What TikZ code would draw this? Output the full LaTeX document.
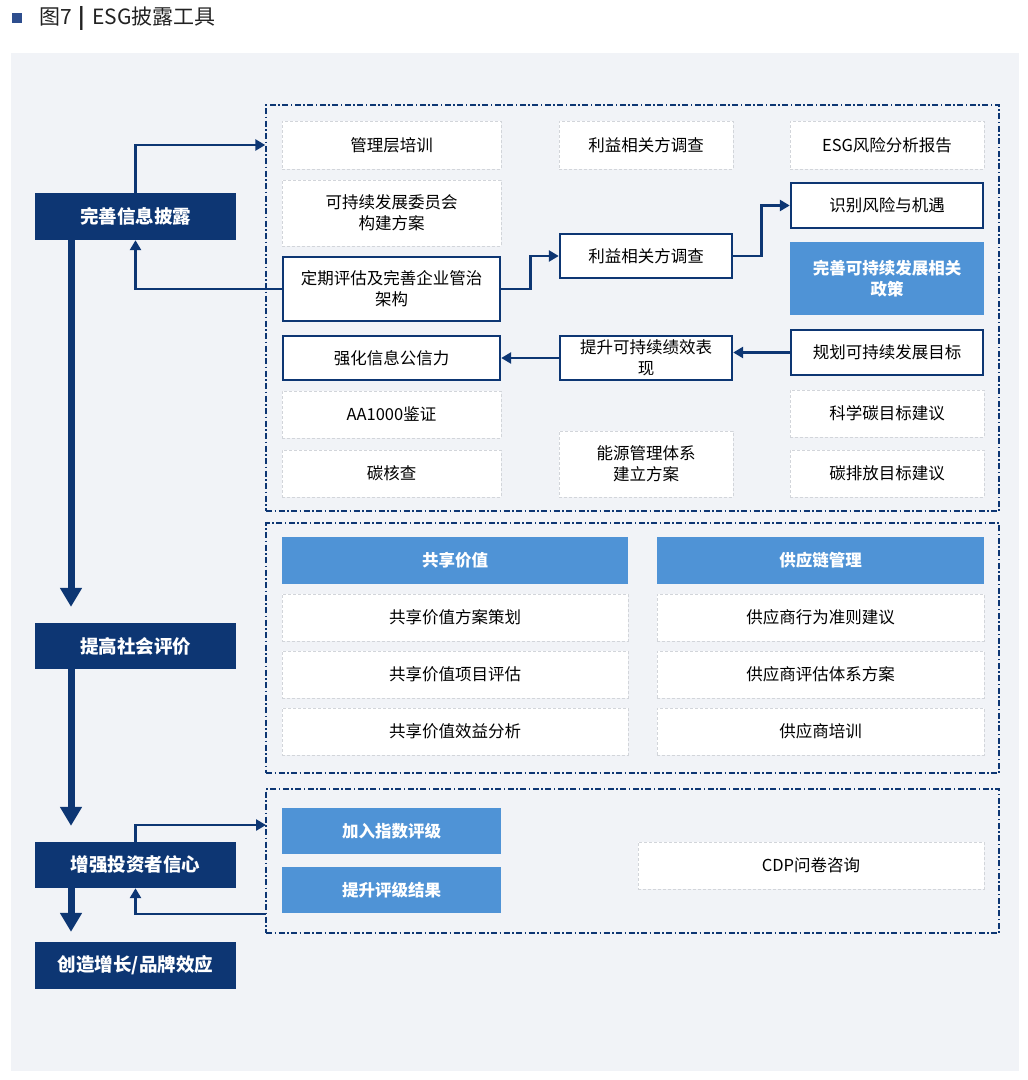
\documentclass[tikz,border=0pt]{standalone}
\usepackage{fontspec}
\setmainfont{Noto Sans CJK SC}
\usetikzlibrary{arrows.meta}
\definecolor{navy}{HTML}{0D3673}
\definecolor{bluef}{HTML}{4F93D6}
\definecolor{bgc}{HTML}{F1F3F7}
\definecolor{lgray}{HTML}{D2D5DA}
\definecolor{titlec}{HTML}{222222}
\definecolor{sq}{HTML}{2E4E8E}
\tikzset{
  lbox/.style={fill=navy, text=white, font=\bfseries\fontsize{18.5}{22}\selectfont, minimum width=201pt, minimum height=47pt, inner sep=0pt},
  wbox/.style={fill=white, draw=lgray, line width=0.7pt, dash pattern=on 3pt off 2pt, font=\fontsize{16.5}{21}\selectfont, align=center, inner sep=0pt},
  nbox/.style={fill=white, draw=navy, line width=2.4pt, font=\fontsize{16.5}{21}\selectfont, align=center, inner sep=0pt},
  bbox/.style={fill=bluef, text=white, font=\bfseries\fontsize{16.5}{21}\selectfont, align=center, inner sep=0pt},
  grp/.style={draw=navy, line width=1.4pt, dash pattern=on 6pt off 2.5pt on 1.5pt off 2.5pt, inner sep=0pt},
  bigarrow/.style={draw=navy, line width=7pt, -{Triangle[length=19pt,width=21pt]}},
  thinarrow/.style={draw=navy, line width=2.6pt, -{Triangle[length=10pt,width=11pt]}},
}
\begin{document}
\begin{tikzpicture}[x=1pt,y=-1pt]
\useasboundingbox (0,0) rectangle (1028,1080);
\fill[bgc] (11,53) rectangle (1019,1071);
% title
\fill[sq] (12,13) rectangle (22,23);
\node[anchor=west, inner sep=0pt, text=titlec, font=\fontsize{21}{22}\selectfont] (title) at (39,18) {图7\kern7pt\textbf{|}\kern7pt ESG披露工具};

% group boxes
\node[grp, minimum width=733pt, minimum height=406pt] (g1) at (632.5,308) {};
\node[grp, minimum width=733pt, minimum height=250pt] (g2) at (632.5,648) {};
\node[grp, minimum width=733pt, minimum height=144pt] (g3) at (632.5,861) {};

% left boxes
\node[lbox] (L1) at (135.5,216.5) {完善信息披露};
\node[lbox, minimum height=46pt] (L2) at (135.5,646) {提高社会评价};
\node[lbox, minimum height=46pt] (L3) at (135.5,865) {增强投资者信心};
\node[lbox] (L4) at (135.5,965.5) {创造增长/品牌效应};

% box 1, column 1
\node[wbox, minimum width=219pt, minimum height=48pt] (a1) at (391.5,145) {管理层培训};
\node[wbox, minimum width=219pt, minimum height=66pt] (a2) at (391.5,213) {可持续发展委员会\\构建方案};
\node[nbox, minimum width=217pt, minimum height=64pt] (a3) at (391.5,289) {定期评估及完善企业管治\\架构};
\node[nbox, minimum width=217pt, minimum height=44pt] (a4) at (391.5,358) {强化信息公信力};
\node[wbox, minimum width=219pt, minimum height=47pt] (a5) at (391.5,414.5) {AA1000鉴证};
\node[wbox, minimum width=219pt, minimum height=47pt] (a6) at (391.5,473.5) {碳核查};
% column 2
\node[wbox, minimum width=174pt, minimum height=48pt] (b1) at (646,145) {利益相关方调查};
\node[nbox, minimum width=172pt, minimum height=44pt] (b2) at (646,256) {利益相关方调查};
\node[nbox, minimum width=172pt, minimum height=44pt] (b3) at (646,358) {提升可持续绩效表\\现};
\node[wbox, minimum width=174pt, minimum height=66pt] (b4) at (646,464) {能源管理体系\\建立方案};
% column 3
\node[wbox, minimum width=194pt, minimum height=48pt] (c1) at (887,145) {ESG风险分析报告};
\node[nbox, minimum width=192pt, minimum height=45pt] (c2) at (887,205.5) {识别风险与机遇};
\node[bbox, minimum width=194pt, minimum height=73pt] (c3) at (887,278.5) {完善可持续发展相关\\政策};
\node[nbox, minimum width=192pt, minimum height=45pt] (c4) at (887,352.5) {规划可持续发展目标};
\node[wbox, minimum width=194pt, minimum height=47pt] (c5) at (887,413.5) {科学碳目标建议};
\node[wbox, minimum width=194pt, minimum height=47pt] (c6) at (887,473.5) {碳排放目标建议};

% box 2
\node[bbox, minimum width=346pt, minimum height=47pt] (s0) at (455,560.5) {共享价值};
\node[wbox, minimum width=346pt, minimum height=47pt] (s1) at (455,617.5) {共享价值方案策划};
\node[wbox, minimum width=346pt, minimum height=47pt] (s2) at (455,674.5) {共享价值项目评估};
\node[wbox, minimum width=346pt, minimum height=47pt] (s3) at (455,731.5) {共享价值效益分析};
\node[bbox, minimum width=327pt, minimum height=47pt] (p0) at (820.5,560.5) {供应链管理};
\node[wbox, minimum width=327pt, minimum height=47pt] (p1) at (820.5,617.5) {供应商行为准则建议};
\node[wbox, minimum width=327pt, minimum height=47pt] (p2) at (820.5,674.5) {供应商评估体系方案};
\node[wbox, minimum width=327pt, minimum height=47pt] (p3) at (820.5,731.5) {供应商培训};

% box 3
\node[bbox, minimum width=219pt, minimum height=46pt] (r1) at (391.5,831) {加入指数评级};
\node[bbox, minimum width=219pt, minimum height=46pt] (r2) at (391.5,890) {提升评级结果};
\node[wbox, minimum width=346pt, minimum height=47pt] (r3) at (811,865.5) {CDP问卷咨询};

% thick arrows
\draw[bigarrow] ([xshift=-64.5pt]L1.south) -- ([xshift=-64.5pt,yshift=16pt]L2.north);
\draw[bigarrow] ([xshift=-64.5pt]L2.south) -- ([xshift=-64.5pt,yshift=16pt]L3.north);
\draw[bigarrow] ([xshift=-64.5pt]L3.south) -- ([xshift=-64.5pt,yshift=10pt]L4.north);

% thin arrows
\draw[thinarrow] (L1.north) |- (g1.west |- a1);
\draw[thinarrow] (a3.west) -| (L1.south);
\draw[thinarrow] (a3.east) -- ++(29,0) |- (b2.west);
\draw[thinarrow] (b2.east) -- ++(28,0) |- (c2.west);
\draw[thinarrow] (c4.west) -- (c4.west -| b3.east);
\draw[thinarrow] (b3.west) -- (a4.east);
\coordinate (g3in) at (266,825);
\coordinate (g3out) at (266,914);
\draw[thinarrow] (L3.north) |- (g3in);
\draw[thinarrow] (g3out) -| (L3.south);
\end{tikzpicture}
\end{document}
